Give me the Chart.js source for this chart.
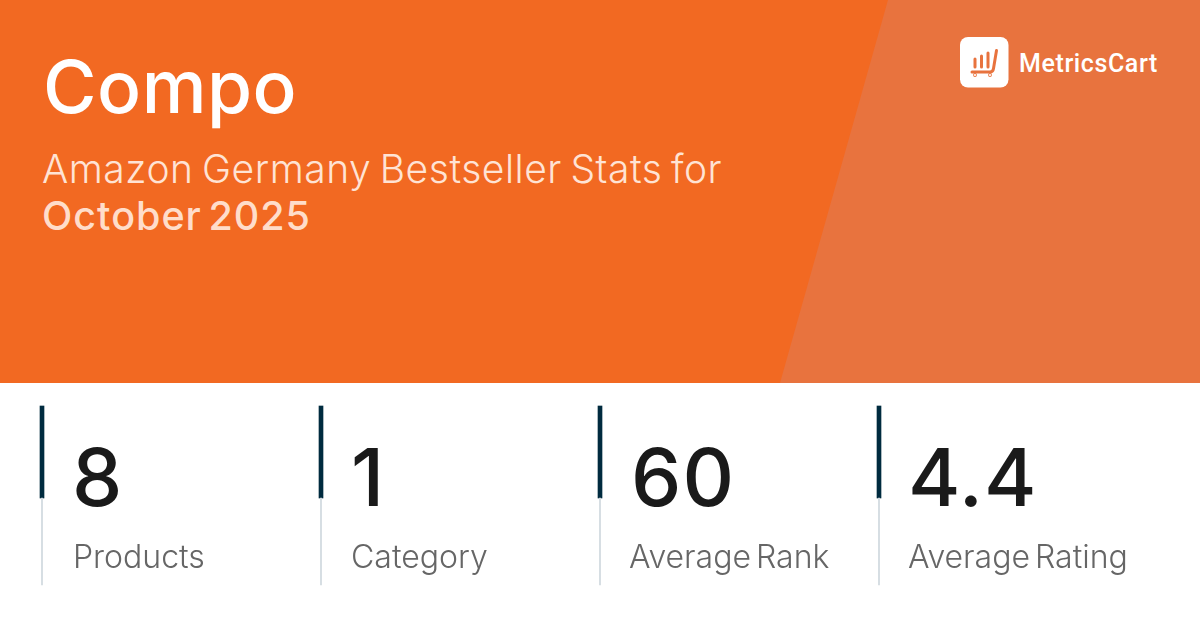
<!DOCTYPE html>
<html><head><meta charset="utf-8">
<script src="https://cdn.jsdelivr.net/npm/chart.js@4/dist/chart.umd.js"></script>
<style>
html,body{margin:0;padding:0;width:1200px;height:628px;overflow:hidden;background:#fff;font-family:Inter,sans-serif}
#hdr{position:absolute;left:0;top:0;width:1200px;height:383px;background:#F26922}
#wedge{position:absolute;left:0;top:0;width:1200px;height:383px;background:#E8733E;clip-path:polygon(888px 0,1200px 0,1200px 383px,780px 383px)}
canvas{position:absolute;left:0;top:0}
.t{position:absolute;white-space:nowrap;line-height:1}
#title{left:43px;top:50px;font-size:73px;font-weight:500;color:#fff;letter-spacing:.5px}
#sub{left:42px;top:149px;font-size:39px;font-weight:300;color:#FFE3D4;letter-spacing:.53px;word-spacing:-3px}
#period{left:42px;top:197px;font-size:39.500px;font-weight:500;color:#FFDDCA;letter-spacing:1px;word-spacing:-5px}
#brand{left:1019px;top:51px;font-family:Roboto,sans-serif;font-size:25px;font-weight:500;color:#fff;letter-spacing:.6px}
.val{font-size:80px;font-weight:550;color:#1A1A1A;top:437px;letter-spacing:1px}
.lab{font-size:32px;font-weight:300;color:#666;top:541px;word-spacing:-4px}
</style></head><body>
<div id="hdr"></div><div id="wedge"></div>
<svg style="position:absolute;left:960px;top:37px" width="49" height="51" viewBox="0 0 49 51">
<rect x="0" y="0" width="48.500" height="50.500" rx="8" fill="#fff"/>
<g stroke="#E8733E" stroke-width="3" stroke-linecap="round" stroke-linejoin="round" fill="none">
<path d="M15 22v8M21.500 19v11M28 16v14"/>
<path d="M36.500 13.500L33.500 31.500c-.3 2-1.500 3.500-3.500 3.500H12"/>
<circle cx="15" cy="38" r=".4"/><circle cx="30" cy="38" r=".4"/>
</g></svg>
<div class="t" id="brand"></div>
<div class="t" id="title"></div><div class="t" id="sub"></div><div class="t" id="period"></div>
<canvas id="c" width="1200" height="628"></canvas>
<script>
const brandName = "MetricsCart";
const titleText = "Compo";
const subtitleText = "Amazon Germany Bestseller Stats for";
const periodText = "October 2025";
const categories = ["Products","Category","Average Rank","Average Rating"];
const displayValues = ["8","1","60","4.4"];
const ruleLower = [87,87,87,87];
const ruleUpper = [92,92,92,92];
const valueLeft = [72,351,631,908];
const labelLeft = [73,351,629,908];

document.getElementById('brand').textContent = brandName;
document.getElementById('title').textContent = titleText;
document.getElementById('sub').textContent = subtitleText;
document.getElementById('period').textContent = periodText;
categories.forEach((c,i)=>{
  const v=document.createElement('div');v.className='t val';v.textContent=displayValues[i];v.style.left=valueLeft[i]+'px';document.body.appendChild(v);
  const l=document.createElement('div');l.className='t lab';l.textContent=c;l.style.left=labelLeft[i]+'px';document.body.appendChild(l);
});
new Chart(document.getElementById('c'),{
  type:'bar',
  data:{labels:categories,datasets:[
    {data:ruleLower,backgroundColor:'#D5DDE2',barThickness:1.25,clip:false,stack:'r'},
    {data:ruleUpper,backgroundColor:'#002B3F',barThickness:4,clip:false,stack:'r'}
  ]},
  options:{
    responsive:false,animation:false,devicePixelRatio:1,
    layout:{padding:{left:42,right:321,top:406,bottom:43}},
    plugins:{legend:{display:false},tooltip:{enabled:false},title:{display:false}},
    scales:{
      x:{display:false,offset:false,stacked:true,grid:{display:false}},
      y:{display:false,stacked:true,min:0,max:179,grid:{display:false}}
    }
  }
});
</script></body></html>
